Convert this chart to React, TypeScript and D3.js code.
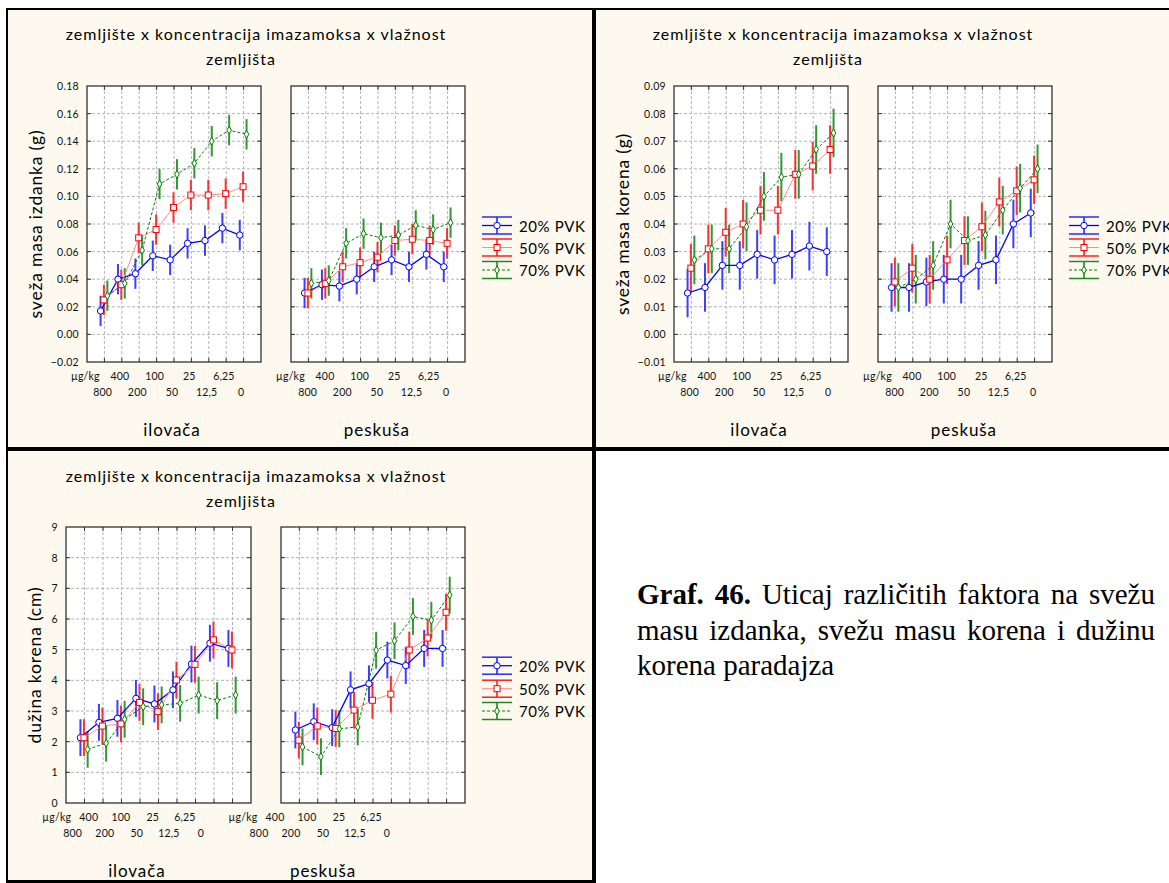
import React, { useLayoutEffect, useRef, useState } from 'react';
import * as d3 from 'd3';

// categories (imazamox concentration, µg/kg) and tick labels
const concentrations = ["800", "400", "200", "100", "50", "25", "12,5", "6,25", "0"];
const xTickLabels = ["µg/kg", ...concentrations];
const soils = ["ilovača", "peskuša"];
const seriesNames = ["20% PVK", "50% PVK", "70% PVK"];
const titleLines = ["zemljište x koncentracija imazamoksa x vlažnost", "zemljišta"];
const captionBold = "Graf. 46.";
const captionLines = [" Uticaj različitih faktora na svežu", "masu izdanka, svežu masu korena i dužinu", "korena paradajza"];

// sveža masa izdanka (g)
const shootIlovaca20 = [0.017, 0.040, 0.044, 0.057, 0.054, 0.066, 0.068, 0.077, 0.072];
const shootIlovaca50 = [0.025, 0.036, 0.070, 0.076, 0.092, 0.101, 0.101, 0.102, 0.107];
const shootIlovaca70 = [0.028, 0.037, 0.061, 0.109, 0.116, 0.124, 0.140, 0.148, 0.145];
const shootPeskusa20 = [0.030, 0.036, 0.035, 0.040, 0.049, 0.054, 0.049, 0.058, 0.049];
const shootPeskusa50 = [0.030, 0.037, 0.049, 0.052, 0.056, 0.068, 0.069, 0.068, 0.066];
const shootPeskusa70 = [0.037, 0.039, 0.066, 0.073, 0.070, 0.072, 0.079, 0.076, 0.081];
const shootErr = [0.011, 0.011, 0.011];
const shootTicks = [-0.02, 0, 0.02, 0.04, 0.06, 0.08, 0.10, 0.12, 0.14, 0.16, 0.18];

// sveža masa korena (g)
const rootIlovaca20 = [0.015, 0.017, 0.025, 0.025, 0.029, 0.027, 0.029, 0.032, 0.030];
const rootIlovaca50 = [0.024, 0.031, 0.037, 0.040, 0.045, 0.045, 0.058, 0.061, 0.067];
const rootIlovaca70 = [0.027, 0.031, 0.031, 0.039, 0.050, 0.057, 0.058, 0.067, 0.073];
const rootPeskusa20 = [0.017, 0.017, 0.019, 0.020, 0.020, 0.025, 0.027, 0.040, 0.044];
const rootPeskusa50 = [0.019, 0.024, 0.020, 0.027, 0.034, 0.039, 0.048, 0.052, 0.056];
const rootPeskusa70 = [0.017, 0.020, 0.025, 0.040, 0.034, 0.036, 0.045, 0.053, 0.060];
const rootErr = [0.0088, 0.0088, 0.0088];
const rootTicks = [-0.01, 0, 0.01, 0.02, 0.03, 0.04, 0.05, 0.06, 0.07, 0.08, 0.09];

// dužina korena (cm)
const lenIlovaca20 = [2.13, 2.63, 2.76, 3.41, 3.23, 3.69, 4.53, 5.21, 5.04];
const lenIlovaca50 = [2.13, 2.51, 2.58, 3.28, 2.98, 4.01, 4.52, 5.32, 4.99];
const lenIlovaca70 = [1.75, 1.95, 2.73, 3.14, 3.20, 3.25, 3.52, 3.34, 3.52];
const lenPeskusa20 = [2.38, 2.65, 2.46, 3.69, 3.89, 4.66, 4.48, 5.04, 5.04];
const lenPeskusa50 = [2.05, 2.51, 2.43, 3.03, 3.35, 3.55, 4.99, 5.38, 6.22];
const lenPeskusa70 = [1.83, 1.51, 2.42, 2.48, 4.98, 5.29, 6.08, 5.96, 6.78];
const lenErr = [0.6, 0.6, 0.6];
const lenTicks = [0, 1, 2, 3, 4, 5, 6, 7, 8, 9];

const cream = "#fdf9ee";
const font = "Lato, 'Open Sans', sans-serif";

const seriesStyles = [
  { line: "#0000ff", width: 1.3, dash: undefined, err: "#2a2aff", marker: "circle", color: "#0000ff", offset: -0.22 },
  { line: "#ff8c8c", width: 1, dash: undefined, err: "#ff1f1f", marker: "square", color: "#ff0000", offset: -0.03 },
  { line: "#008000", width: 1, dash: "3,2", err: "#1f8a1f", marker: "diamond", color: "#008000", offset: 0.17 },
];

const diamondPath = d3.symbol(d3.symbolDiamond, 18)() as string;

function Marker({ kind, x, y, color }: { kind: string; x: number; y: number; color: string }) {
  if (kind === "circle") return <circle cx={x} cy={y} r={3.2} fill="#fff" stroke={color} strokeWidth={1} />;
  if (kind === "square") return <rect x={x - 3} y={y - 3} width={6} height={6} fill="#fff" stroke={color} strokeWidth={1} />;
  return <path d={diamondPath} transform={`translate(${x},${y})`} fill="#fff" stroke={color} strokeWidth={1} />;
}

interface PanelLayout { x0: number; x1: number; lab0: number; lab1: number; }
interface ChartCfg {
  yLabel: string;
  yDomain: [number, number];
  yTicks: number[];
  fmt: (v: number) => string;
  data: number[][][];
  err: number[];
  panels: PanelLayout[];
  yTop: number;
  yBot: number;
  titleX: number[];
  titleY: number[];
  legendX: number;
  legendY: number[];
  yLabelX: number;
}

function Chart({ cfg }: { cfg: ChartCfg }) {
  const y = d3.scaleLinear().domain(cfg.yDomain).range([cfg.yBot, cfg.yTop]);
  const first = cfg.panels[0];
  return (
    <g fontFamily={font}>
      <text x={cfg.titleX[0]} y={cfg.titleY[0]} textAnchor="middle" dominantBaseline="central" fontSize={16} letterSpacing={1}>{titleLines[0]}</text>
      <text x={cfg.titleX[1]} y={cfg.titleY[1]} textAnchor="middle" dominantBaseline="central" fontSize={16} letterSpacing={1}>{titleLines[1]}</text>

      <text transform={`translate(${cfg.yLabelX},${(cfg.yTop + cfg.yBot) / 2}) rotate(-90)`} textAnchor="middle" dominantBaseline="central" fontSize={17.5} letterSpacing={0.8}>{cfg.yLabel}</text>

      {cfg.yTicks.map(t => (
        <text key={t} x={first.x0 - 8} y={y(t)} textAnchor="end" dominantBaseline="central" fontSize={10.5} letterSpacing={0.3} fill="#111">{cfg.fmt(t)}</text>
      ))}

      {cfg.panels.map((p, pi) => {
        const x = d3.scaleLinear().domain([0, 10]).range([p.x0, p.x1]);
        const lab = d3.scaleLinear().domain([0, 10]).range([p.lab0, p.lab1]);
        const series = cfg.data[pi];
        return (
          <g key={pi}>
            <rect x={p.x0} y={cfg.yTop} width={p.x1 - p.x0} height={cfg.yBot - cfg.yTop} fill="#fff" />
            {concentrations.map((_, i) => (
              <line key={"vx" + i} x1={x(i + 1)} x2={x(i + 1)} y1={cfg.yTop} y2={cfg.yBot} stroke="#b4b4b4" strokeWidth={1} strokeDasharray="3,2" />
            ))}
            {cfg.yTicks.slice(1, -1).map(t => (
              <line key={"hy" + t} x1={p.x0} x2={p.x1} y1={y(t)} y2={y(t)} stroke="#b4b4b4" strokeWidth={1} strokeDasharray="3,2" />
            ))}
            {concentrations.map((_, i) => (
              <g key={"tx" + i} stroke="#333" strokeWidth={1}>
                <line x1={x(i + 1)} x2={x(i + 1)} y1={cfg.yBot} y2={cfg.yBot - 4} />
                <line x1={x(i + 1)} x2={x(i + 1)} y1={cfg.yTop} y2={cfg.yTop + 4} />
              </g>
            ))}
            {cfg.yTicks.slice(1, -1).map(t => (
              <g key={"ty" + t} stroke="#333" strokeWidth={1}>
                <line x1={p.x0} x2={p.x0 + 4} y1={y(t)} y2={y(t)} />
                <line x1={p.x1} x2={p.x1 - 4} y1={y(t)} y2={y(t)} />
              </g>
            ))}
            <rect x={p.x0} y={cfg.yTop} width={p.x1 - p.x0} height={cfg.yBot - cfg.yTop} fill="none" stroke="#222" strokeWidth={1.2} />

            {series.map((vals, si) => {
              const st = seriesStyles[si];
              return (
                <g key={"e" + si} stroke={st.err} strokeWidth={2} opacity={0.9}>
                  {vals.map((v, i) => (
                    <line key={i} x1={x(i + 1 + st.offset)} x2={x(i + 1 + st.offset)} y1={y(v - cfg.err[si])} y2={y(v + cfg.err[si])} />
                  ))}
                </g>
              );
            })}
            {series.map((vals, si) => {
              const st = seriesStyles[si];
              const line = d3.line<number>().x((_, i) => x(i + 1 + st.offset)).y(v => y(v));
              return <path key={"l" + si} d={line(vals) || ""} fill="none" stroke={st.line} strokeWidth={st.width} strokeDasharray={st.dash} />;
            })}
            {series.map((vals, si) => {
              const st = seriesStyles[si];
              return (
                <g key={"m" + si}>
                  {vals.map((v, i) => (
                    <Marker key={i} kind={st.marker} x={x(i + 1 + st.offset)} y={y(v)} color={st.color} />
                  ))}
                </g>
              );
            })}

            {xTickLabels.map((t, i) => (
              <text key={"xl" + i} x={lab(i)} y={cfg.yBot + (i % 2 === 0 ? 13.7 : 29.5)} textAnchor="middle" dominantBaseline="central" fontSize={10.5} letterSpacing={0.2} fill="#111">{t}</text>
            ))}
            <text x={(p.lab0 + p.lab1) / 2} y={cfg.yBot + 67} textAnchor="middle" dominantBaseline="central" fontSize={17} letterSpacing={0.9}>{soils[pi]}</text>
          </g>
        );
      })}

      {seriesNames.map((name, si) => {
        const st = seriesStyles[si];
        const cy = cfg.legendY[si];
        const lx = cfg.legendX;
        return (
          <g key={name}>
            <line x1={lx} x2={lx + 30} y1={cy - 8.5} y2={cy - 8.5} stroke={st.err} strokeWidth={1.5} />
            <line x1={lx} x2={lx + 30} y1={cy + 8.5} y2={cy + 8.5} stroke={st.err} strokeWidth={1.5} />
            <line x1={lx + 15} x2={lx + 15} y1={cy - 8.5} y2={cy + 8.5} stroke={st.err} strokeWidth={2} opacity={0.8} />
            <line x1={lx} x2={lx + 30} y1={cy} y2={cy} stroke={st.line} strokeWidth={st.width} strokeDasharray={st.dash} />
            <Marker kind={st.marker} x={lx + 15} y={cy} color={st.color} />
            <text x={lx + 37} y={cy} dominantBaseline="central" fontSize={15} letterSpacing={0.6}>{name}</text>
          </g>
        );
      })}
    </g>
  );
}

// caption line stretched to a given width by adjusting the word gaps (justified paragraph)
function JustifiedLine({ x, y, width, children }: { x: number; y: number; width: number; children: React.ReactNode }) {
  const ref = useRef<SVGTextElement>(null);
  const [ws, setWs] = useState(0);
  useLayoutEffect(() => {
    const el = ref.current;
    if (!el) return;
    const natural = el.getComputedTextLength();
    const gaps = (el.textContent || "").trim().split(/\s+/).length - 1;
    if (gaps > 0) setWs((width - natural) / gaps);
  }, [width]);
  return <text ref={ref} x={x} y={y} wordSpacing={ws} style={{ whiteSpace: "pre" }}>{children}</text>;
}

const fmt2 = d3.format(".2f");
const fmt0 = d3.format("d");

const charts: ChartCfg[] = [
  {
    yLabel: "sveža masa izdanka (g)", yDomain: [-0.02, 0.18], yTicks: shootTicks, fmt: fmt2,
    data: [[shootIlovaca20, shootIlovaca50, shootIlovaca70], [shootPeskusa20, shootPeskusa50, shootPeskusa70]],
    err: shootErr,
    panels: [{ x0: 87, x1: 261, lab0: 85.3, lab1: 258.6 }, { x0: 291, x1: 465, lab0: 290.4, lab1: 463.4 }],
    yTop: 86, yBot: 362, titleX: [256, 241], titleY: [33, 58], legendX: 482, legendY: [225.5, 247.5, 270], yLabelX: 35,
  },
  {
    yLabel: "sveža masa korena (g)", yDomain: [-0.01, 0.09], yTicks: rootTicks, fmt: fmt2,
    data: [[rootIlovaca20, rootIlovaca50, rootIlovaca70], [rootPeskusa20, rootPeskusa50, rootPeskusa70]],
    err: rootErr,
    panels: [{ x0: 674, x1: 848, lab0: 672.3, lab1: 845.6 }, { x0: 878, x1: 1052, lab0: 877.4, lab1: 1050.4 }],
    yTop: 86, yBot: 362, titleX: [843, 828], titleY: [33, 58], legendX: 1069, legendY: [225.5, 247.5, 270], yLabelX: 622,
  },
  {
    yLabel: "dužina korena (cm)", yDomain: [0, 9], yTicks: lenTicks, fmt: fmt0,
    data: [[lenIlovaca20, lenIlovaca50, lenIlovaca70], [lenPeskusa20, lenPeskusa50, lenPeskusa70]],
    err: lenErr,
    panels: [{ x0: 66, x1: 251, lab0: 56.7, lab1: 217 }, { x0: 281, x1: 465, lab0: 243, lab1: 403 }],
    yTop: 527, yBot: 803, titleX: [256, 241], titleY: [475, 500], legendX: 482, legendY: [665.7, 688.7, 711], yLabelX: 34,
  },
];

export default function App() {
  return (
    <svg width={1169} height={883} style={{ position: "absolute", left: 0, top: 0, background: "#fff" }}>
      <rect x={8} y={10} width={584} height={437} fill={cream} />
      <rect x={596} y={10} width={573} height={437} fill={cream} />
      <rect x={8} y={451} width={584} height={429} fill={cream} />
      <rect x={6} y={8} width={1163} height={2} fill="#000" />
      <rect x={6} y={8} width={2} height={875} fill="#000" />
      <rect x={592} y={8} width={4} height={875} fill="#000" />
      <rect x={6} y={447} width={1163} height={4} fill="#000" />
      <rect x={6} y={880} width={590} height={3} fill="#000" />

      {charts.map((c, i) => <Chart key={i} cfg={c} />)}

      <g fontFamily="'Liberation Serif', 'Times New Roman', serif" fontSize={29} fill="#000">
        <JustifiedLine x={637} y={604} width={518}><tspan fontWeight="bold">{captionBold}</tspan>{captionLines[0]}</JustifiedLine>
        <JustifiedLine x={637} y={639.5} width={518}>{captionLines[1]}</JustifiedLine>
        <text x={637} y={675}>{captionLines[2]}</text>
      </g>
    </svg>
  );
}
